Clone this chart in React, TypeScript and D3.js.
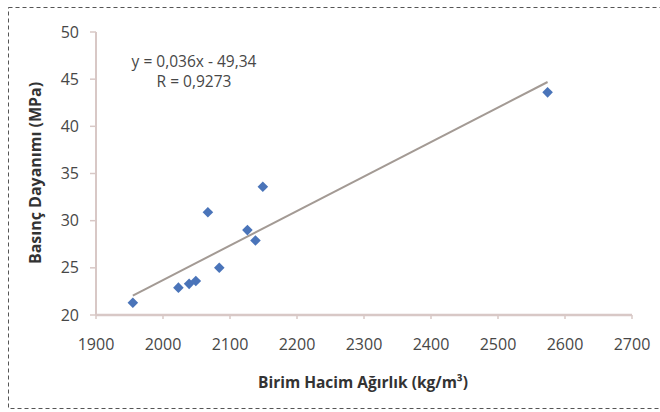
import React from "react";
import * as d3 from "d3";

const densities = [1955, 2023, 2039, 2049, 2067, 2084, 2126, 2138, 2149, 2574];
const strengths = [21.3, 22.9, 23.3, 23.6, 30.9, 25.0, 29.0, 27.9, 33.6, 43.6];
const xTicks = [1900, 2000, 2100, 2200, 2300, 2400, 2500, 2600, 2700];
const yTicks = [20, 25, 30, 35, 40, 45, 50];
const equationLines = ["y = 0,036x - 49,34", "R = 0,9273"];
const xTitle = "Birim Hacim Ağırlık (kg/m³)";
const yTitle = "Basınç Dayanımı (MPa)";

export default function App() {
  const W = 660, H = 412;
  const x = d3.scaleLinear().domain([1900, 2700]).range([96, 632]);
  const y = d3.scaleLinear().domain([20, 50]).range([315, 32]);

  const mx = d3.mean(densities)!;
  const my = d3.mean(strengths)!;
  let sxy = 0, sxx = 0;
  densities.forEach((d, i) => {
    sxy += (d - mx) * (strengths[i] - my);
    sxx += (d - mx) * (d - mx);
  });
  const slope = sxy / sxx;
  const icpt = my - slope * mx;
  const [x0, x1] = d3.extent(densities) as [number, number];
  const line = d3.line<number>().x((d) => x(d)).y((d) => y(slope * d + icpt));

  const axisColor = "#d8c8c6";
  const textColor = "#474747";
  const font = "'Open Sans', 'DejaVu Sans', sans-serif";
  const marker = d3.symbol().type(d3.symbolSquare).size(56)()!;

  return (
    <svg width={W} height={H} style={{ position: "absolute", left: 0, top: 0 }} fontFamily={font}>
      <rect x={0} y={0} width={W} height={H} fill="#fff" />
      <rect x={8.5} y={7.5} width={660} height={401} fill="none" stroke="#555" strokeDasharray="4,3" strokeWidth={1} />
      {/* axes */}
      <line x1={x(1900)} x2={x(1900)} y1={y(50)} y2={y(20)} stroke={axisColor} strokeWidth={2} />
      <line x1={x(1900)} x2={x(2700)} y1={y(20)} y2={y(20)} stroke={axisColor} strokeWidth={2.5} />
      {yTicks.map((t) => (
        <g key={"y" + t}>
          <line x1={x(1900) - 6} x2={x(1900)} y1={y(t)} y2={y(t)} stroke={axisColor} strokeWidth={1.5} />
          <text x={79} y={y(t)} dy="0.35em" textAnchor="end" fontSize={16} fill={textColor}>{t}</text>
        </g>
      ))}
      {xTicks.map((t) => (
        <g key={"x" + t}>
          <line x1={x(t)} x2={x(t)} y1={y(20)} y2={y(20) + 4} stroke={axisColor} strokeWidth={1.5} />
          <text x={x(t)} y={344} dy="0.35em" textAnchor="middle" fontSize={16} fill={textColor}>{t}</text>
        </g>
      ))}
      {/* trend line */}
      <path d={line([x0, x1])!} fill="none" stroke="#a39a94" strokeWidth={2} />
      {/* points */}
      {densities.map((d, i) => (
        <path key={i} d={marker} transform={`translate(${x(d)},${y(strengths[i])}) rotate(45)`} fill="#4a74b9" />
      ))}
      {/* equation */}
      {equationLines.map((s, i) => (
        <text key={s} x={194} y={62 + i * 20} dy="0.35em" textAnchor="middle" fontSize={15.5} fill={textColor}>{s}</text>
      ))}
      {/* titles */}
      <text x={363} y={383} dy="0.35em" textAnchor="middle" fontSize={15.5} fontWeight="bold" fill="#333">{xTitle}</text>
      <text transform={`translate(35,173) rotate(-90)`} dy="0.35em" textAnchor="middle" fontSize={16} fontWeight="bold" fill="#333">{yTitle}</text>
    </svg>
  );
}
